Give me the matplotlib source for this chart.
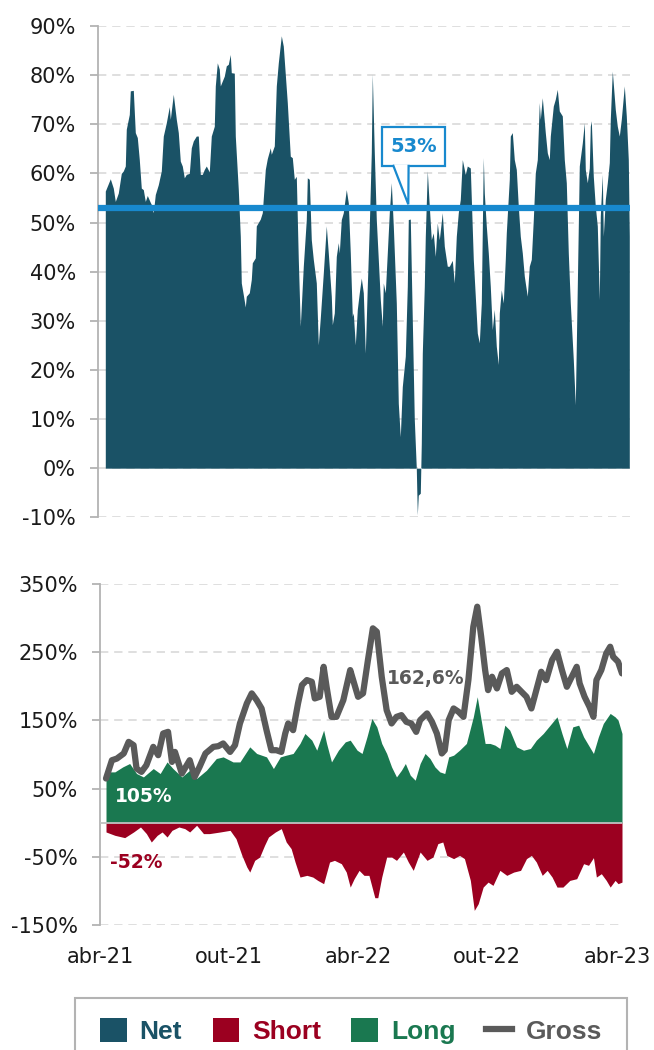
import matplotlib
matplotlib.use('Agg')
import matplotlib.pyplot as plt
from matplotlib.patches import Patch, Rectangle, Polygon
from matplotlib.lines import Line2D
from matplotlib.ticker import FuncFormatter

# Net exposure (top panel), observation index vs % of NAV
net_idx = [0, 5, 8, 10, 13, 16, 18, 20, 21, 24,
           25, 28, 30, 32, 34, 36, 38, 40, 42, 45,
           46, 48, 50, 53, 56, 58, 61, 64, 65, 68,
           71, 73, 75, 77, 79, 81, 84, 86, 88, 91,
           93, 95, 97, 99, 101, 104, 106, 109, 110, 112,
           114, 115, 117, 119, 121, 123, 125, 126, 129, 130,
           133, 135, 136, 138, 140, 141, 144, 146, 147, 150,
           151, 155, 157, 160, 162, 165, 166, 169, 171, 173,
           176, 178, 182, 185, 187, 189, 191, 193, 195, 198,
           201, 202, 204, 206, 208, 211, 213, 215, 218, 221,
           223, 226, 227, 229, 231, 233, 234, 236, 238, 241,
           243, 245, 247, 248, 250, 252, 254, 256, 258, 260,
           262, 264, 266, 267, 269, 271, 273, 275, 277, 278,
           280, 282, 284, 286, 288, 291, 293, 295, 297, 300,
           302, 303, 305, 307, 309, 311, 312, 313, 315, 316,
           317, 319, 320, 322, 324, 326, 328, 330, 332, 334,
           337, 339, 342, 344, 347, 349, 351, 353, 355, 357,
           360, 362, 365, 368, 370, 372, 374, 376, 378, 379,
           381, 383, 385, 387, 389, 391, 393, 394, 396, 398,
           400, 401, 404, 405, 407, 409, 411, 413, 415, 417,
           419, 420, 422, 424, 426, 428, 430, 432, 434, 435,
           437, 440, 442, 444, 445, 448, 450, 452, 454, 457,
           459, 461, 463, 465, 468, 470, 472, 474, 477, 479,
           480, 482, 484, 485, 486, 488, 490, 492, 494, 495,
           497, 498, 500, 502, 504, 505, 507, 510, 512, 514,
           516, 519, 521, 523, 524]
net = [56.4, 58.9, 57.0, 54.3, 56.0, 60.0, 60.5, 61.5, 69.0, 72.0,
       76.8, 76.9, 68.3, 67.3, 62.8, 57.0, 56.7, 54.3, 55.5, 54.1,
       53.7, 52.0, 55.7, 57.7, 60.5, 67.6, 70.3, 73.6, 71.0, 76.1,
       71.0, 68.3, 62.5, 61.5, 59.1, 59.8, 60.0, 65.2, 66.6, 67.6,
       67.6, 59.8, 59.8, 60.8, 61.5, 60.3, 67.6, 69.6, 77.8, 82.5,
       81.2, 77.8, 78.8, 79.8, 81.9, 82.2, 84.2, 80.5, 80.4, 67.6,
       56.7, 47.2, 37.7, 35.3, 32.8, 35.0, 35.7, 38.4, 41.8, 42.8,
       49.3, 50.7, 52.0, 60.8, 63.0, 65.2, 63.9, 65.6, 77.8, 82.5,
       88.0, 85.9, 74.4, 63.5, 63.2, 58.8, 59.4, 42.5, 28.9, 41.1,
       50.6, 59.1, 58.8, 46.5, 42.5, 37.7, 25.1, 30.6, 39.7, 49.3,
       43.8, 35.0, 29.2, 31.6, 43.1, 45.9, 43.8, 50.6, 52.0, 56.7,
       54.0, 43.8, 30.9, 31.6, 25.1, 32.3, 35.7, 38.7, 35.7, 23.4,
       37.0, 49.3, 64.2, 80.2, 64.2, 50.6, 42.5, 34.3, 28.9, 37.7,
       35.7, 43.8, 52.0, 58.1, 49.3, 33.6, 13.2, 6.4, 16.6, 22.8,
       37.0, 50.6, 50.7, 30.2, 9.9, 0.0, -9.5, -5.5, -5.1, 5.0,
       23.4, 37.0, 47.2, 60.5, 53.3, 46.5, 47.9, 43.1, 49.9, 46.5,
       52.0, 45.2, 41.1, 41.1, 42.3, 37.7, 47.2, 52.0, 54.7, 62.8,
       59.8, 61.5, 61.1, 42.5, 35.0, 27.5, 25.5, 33.6, 63.2, 56.0,
       49.3, 43.8, 37.0, 28.2, 32.3, 24.8, 21.1, 31.6, 36.3, 33.6,
       42.5, 47.9, 58.8, 67.6, 68.3, 62.8, 60.8, 53.3, 47.2, 43.8,
       39.1, 37.7, 35.0, 41.1, 42.5, 50.6, 60.1, 62.8, 74.4, 71.0,
       75.4, 68.3, 64.2, 62.8, 67.6, 73.7, 75.1, 77.1, 72.7, 71.7,
       62.8, 58.1, 43.8, 33.6, 22.1, 12.9, 37.0, 61.5, 66.2, 70.3,
       60.8, 58.1, 61.1, 69.6, 70.7, 59.4, 53.3, 49.3, 34.3, 51.3,
       59.8, 47.2, 54.7, 58.1, 62.2, 71.0, 80.8, 73.0, 69.6, 67.6,
       71.0, 77.8, 71.7, 62.8, 47.2]
net_avg = 53

# Long / Short / Gross exposure (bottom panel)
long_idx = [0, 9, 17, 24, 31, 38, 48, 55, 62, 68,
            77, 85, 92, 102, 112, 119, 129, 136, 146, 153,
            163, 170, 177, 183, 190, 197, 202, 209, 214, 221,
            224, 229, 236, 243, 248, 255, 260, 265, 270, 275,
            280, 285, 290, 295, 300, 304, 309, 314, 319, 324,
            329, 334, 339, 344, 348, 353, 359, 366, 373, 377,
            381, 385, 390, 395, 400, 405, 410, 417, 424, 431,
            437, 444, 451, 458, 463, 468, 474, 480, 485, 491,
            495, 500, 505, 512, 517, 520, 524]
long_exp = [74.5, 74.5, 81.8, 86.8, 72.1, 67.1, 79.4, 72.1, 89.1, 79.4,
            67.1, 76.9, 64.8, 76.9, 94.1, 96.5, 89.1, 89.1, 111.2, 101.5,
            96.5, 79.4, 96.5, 99.0, 101.5, 116.2, 130.8, 121.0, 106.3, 135.7,
            116.2, 89.1, 106.3, 118.5, 121.0, 106.3, 101.5, 125.8, 152.8, 140.5,
            116.2, 101.5, 81.8, 67.1, 76.9, 86.8, 69.6, 62.3, 86.8, 101.5,
            94.1, 81.8, 74.5, 72.1, 96.5, 99.0, 106.3, 116.2, 155.2, 184.6,
            150.4, 116.2, 116.2, 113.7, 108.8, 143.0, 135.7, 111.2, 106.3, 108.8,
            121.0, 130.8, 143.0, 155.2, 130.8, 108.8, 140.5, 143.0, 125.8, 111.2,
            101.5, 125.8, 145.5, 160.2, 155.2, 150.4, 130.8]

short_idx = [0, 9, 19, 28, 35, 41, 46, 52, 57, 62,
             67, 74, 80, 85, 92, 99, 105, 116, 126, 132,
             138, 143, 146, 151, 156, 161, 165, 172, 178, 183,
             188, 192, 197, 204, 210, 215, 221, 227, 232, 239,
             244, 248, 252, 257, 262, 267, 273, 276, 280, 285,
             290, 295, 302, 307, 312, 319, 326, 332, 337, 342,
             346, 353, 359, 364, 370, 374, 378, 383, 388, 393,
             400, 407, 414, 421, 427, 432, 437, 443, 448, 453,
             458, 464, 471, 478, 485, 490, 495, 498, 503, 508,
             512, 517, 520, 524]
short_exp = [-13.6, -18.5, -21.9, -13.6, -6.3, -16.0, -28.3, -18.5, -13.6, -21.0,
             -11.2, -6.3, -8.7, -13.6, -3.8, -16.0, -16.0, -13.6, -11.2, -23.4,
             -47.9, -65.0, -72.4, -55.2, -50.4, -33.2, -21.0, -13.6, -8.7, -28.3,
             -38.0, -57.7, -79.7, -77.2, -79.7, -84.6, -89.4, -57.7, -55.2, -60.1,
             -72.4, -94.4, -82.1, -69.9, -77.2, -77.2, -110.0, -110.0, -79.7, -50.4,
             -50.4, -55.2, -43.0, -57.7, -69.9, -43.0, -55.2, -50.4, -30.7, -28.3,
             -47.9, -52.7, -47.9, -52.7, -84.6, -128.6, -118.8, -94.4, -87.1, -91.9,
             -69.9, -77.2, -72.4, -69.9, -52.7, -47.9, -57.7, -77.2, -69.9, -79.7,
             -94.4, -94.4, -84.6, -82.1, -60.1, -62.5, -51.2, -79.7, -74.8, -84.6,
             -94.4, -84.6, -89.4, -87.1]

gross_idx = [0, 6, 11, 18, 23, 28, 31, 36, 41, 48,
             53, 58, 63, 67, 70, 77, 85, 90, 95, 101,
             109, 114, 119, 126, 131, 136, 143, 148, 153, 158,
             163, 168, 173, 178, 182, 185, 190, 195, 199, 204,
             209, 212, 217, 221, 224, 229, 234, 241, 248, 251,
             256, 261, 266, 271, 275, 280, 285, 290, 295, 300,
             305, 310, 315, 319, 326, 331, 336, 341, 344, 348,
             353, 358, 363, 368, 373, 377, 381, 385, 388, 392,
             397, 402, 407, 412, 417, 422, 427, 432, 437, 442,
             447, 453, 458, 463, 468, 473, 478, 481, 486, 491,
             495, 498, 503, 508, 512, 515, 520, 524]
gross_exp = [64.8, 91.6, 94.0, 101.5, 118.5, 113.7, 79.4, 74.5, 84.3, 111.2,
             99.0, 130.8, 133.2, 89.1, 103.8, 72.1, 91.6, 67.1, 81.8, 101.5,
             111.2, 112.2, 116.2, 103.8, 113.7, 145.5, 174.9, 189.6, 179.7, 167.5,
             135.7, 106.3, 106.3, 103.8, 130.8, 145.5, 135.7, 174.9, 201.8, 209.1,
             206.6, 182.2, 184.6, 228.6, 199.3, 155.2, 155.2, 179.7, 223.8, 209.1,
             184.6, 189.6, 238.5, 285.0, 280.0, 214.0, 165.0, 145.5, 155.2, 157.7,
             147.9, 145.5, 133.2, 150.4, 160.2, 147.9, 130.8, 101.5, 106.3, 150.4,
             167.5, 162.6, 155.2, 209.1, 287.4, 316.7, 272.7, 223.8, 194.4, 214.0,
             196.9, 218.9, 223.8, 191.9, 199.3, 191.9, 184.6, 167.5, 194.4, 221.3,
             209.1, 238.5, 250.7, 223.8, 199.3, 214.0, 228.6, 204.2, 184.6, 169.9,
             155.2, 209.1, 223.8, 248.3, 258.0, 243.3, 236.0, 218.9]

long_avg = 105
short_avg = -52
gross_avg = 162.6

# first observation of each labelled month (index scale)
month_idx = [-6, 125, 256, 387, 519]
month_labels = ['abr-21', 'out-21', 'abr-22', 'out-22', 'abr-23']

NET_C = '#1a5266'
SHORT_C = '#9b0020'
LONG_C = '#1a7850'
GROSS_C = '#5a5a5a'
AVG_C = '#1889ce'
GRID_C = '#d9d9d9'
SPINE_C = '#b3b3b3'

pct = FuncFormatter(lambda v, p: f'{v:.0f}%')

fig = plt.figure(figsize=(6.54, 10.5), dpi=100)
ax1 = fig.add_axes([98 / 654, 1 - 517.3 / 1050, 532 / 654, 491.3 / 1050])
ax2 = fig.add_axes([100 / 654, 1 - 925 / 1050, 522 / 654, 341 / 1050])

for ax in (ax1, ax2):
    for s in ('top', 'right', 'bottom'):
        ax.spines[s].set_visible(False)
    ax.spines['left'].set_color(SPINE_C)
    ax.spines['left'].set_linewidth(1.3)
    ax.yaxis.grid(True, color=GRID_C, lw=1.2, ls=(0, (5, 3.5)))
    ax.set_axisbelow(True)
    ax.yaxis.set_major_formatter(pct)
    ax.tick_params(axis='y', length=5.5, width=1.3, color=SPINE_C, pad=10.5,
                   labelsize=15, labelcolor='#1a1a1a')

# top: net exposure
ax1.fill_between(net_idx, net, 0, color=NET_C, lw=0, zorder=2)
ax1.axhline(net_avg, color=AVG_C, lw=4.5, zorder=3)
ax1.set_xlim(-7.3, 524.7)
ax1.set_ylim(-10, 90)
ax1.set_yticks(range(-10, 91, 10))
ax1.set_xticks([])

# callout for the average
ax1.add_patch(Rectangle((277, net_avg + 8.6), 63, 7.8, fc='white', ec=AVG_C,
                        lw=1.6, zorder=5))
ax1.add_patch(Polygon([(287.7, net_avg + 8.75), (303, net_avg + 0.7), (303.3, net_avg + 8.75)],
                      closed=False, fc='white', ec=AVG_C, lw=1.6, zorder=6))
ax1.text(308.5, net_avg + 12.5, f'{net_avg}%', color=AVG_C, fontsize=14,
         fontweight='bold', ha='center', va='center', zorder=7)

# bottom: long / short / gross
ax2.fill_between(long_idx, long_exp, 0, color=LONG_C, lw=0, zorder=2)
ax2.fill_between(short_idx, short_exp, 0, color=SHORT_C, lw=0, zorder=2)
ax2.axhline(0, color='#c0c0c0', lw=1.3, zorder=3)
ax2.plot(gross_idx, gross_exp, color=GROSS_C, lw=4.5, solid_joinstyle='round',
         solid_capstyle='round', zorder=4)
ax2.set_xlim(-6.1, 524)
ax2.set_ylim(-150, 350)
ax2.set_yticks(range(-150, 351, 100))
ax2.set_xticks(month_idx)
ax2.set_xticklabels(month_labels)
ax2.tick_params(axis='x', length=0, pad=16, labelsize=15, labelcolor='#1a1a1a')

ax2.text(9, 38.8, f'{long_avg}%', color='white', fontsize=13.5, fontweight='bold',
         ha='left', va='center', zorder=5)
ax2.text(4, -58, f'{short_avg}%', color=SHORT_C, fontsize=13.5, fontweight='bold',
         ha='left', va='center', zorder=5)
ax2.text(325, 212, f'{gross_avg}%'.replace('.', ','), color=GROSS_C, fontsize=13.5,
         fontweight='bold', ha='center', va='center', zorder=5)

# legend
handles = [Patch(fc=NET_C), Patch(fc=SHORT_C), Patch(fc=LONG_C),
           Line2D([], [], color=GROSS_C, lw=4.5)]
fig.legend(handles, ['Net', 'Short', 'Long', 'Gross'], loc='center',
           bbox_to_anchor=(351 / 654, 1 - 1031 / 1050), ncol=4, frameon=False,
           prop=dict(family='Liberation Sans', weight='bold', size=19),
           handlelength=1.0, handleheight=1.0, handletextpad=0.5,
           columnspacing=1.15, labelcolor=[NET_C, SHORT_C, LONG_C, GROSS_C])
fig.add_artist(Rectangle((75 / 654, -0.02), 552 / 654, 52 / 1050 + 0.02,
                         transform=fig.transFigure, fill=False, ec=SPINE_C, lw=1.5))

fig.savefig('out.png', dpi=100)
